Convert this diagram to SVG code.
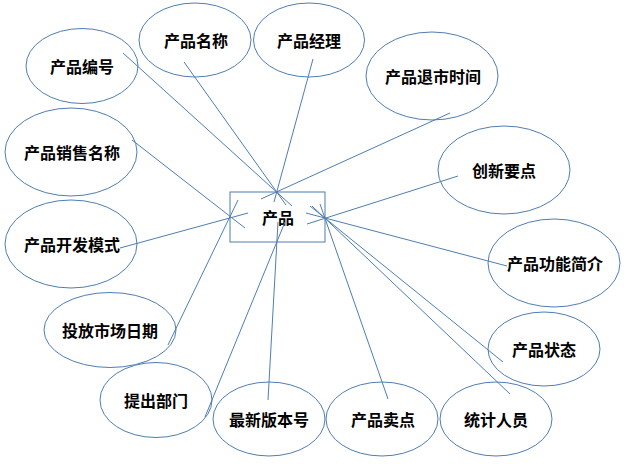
<svg xmlns="http://www.w3.org/2000/svg" width="627" height="464" viewBox="0 0 627 464">
<style>
.n ellipse,.n rect{fill:#fff;stroke:#4f7db3;stroke-width:1}
.c line{stroke:#4f7db3;stroke-width:1}
text{font-family:"Noto Sans CJK SC","Noto Sans CJK JP",sans-serif;font-weight:700;font-size:16px;text-anchor:middle;dominant-baseline:central;fill:#000}
</style>
<rect width="627" height="464" fill="#fff"/>
<g class="n">
<g id="n_bianhao"><ellipse cx="82" cy="66" rx="56" ry="37.5"/><text x="82" y="66">产品编号</text></g>
<g id="n_mingcheng"><ellipse cx="195" cy="40" rx="56" ry="37"/><text x="196" y="40">产品名称</text></g>
<g id="n_jingli"><ellipse cx="309" cy="40" rx="55.5" ry="37"/><text x="309" y="40">产品经理</text></g>
<g id="n_tuishi"><ellipse cx="432" cy="76" rx="66" ry="44"/><text x="433" y="76">产品退市时间</text></g>
<g id="n_chuangxin"><ellipse cx="504" cy="170" rx="66" ry="44"/><text x="504" y="170">创新要点</text></g>
<g id="n_xiaoshou"><ellipse cx="71" cy="152" rx="66" ry="44"/><text x="72" y="152">产品销售名称</text></g>
<g id="n_kaifa"><ellipse cx="71" cy="244" rx="66" ry="44"/><text x="72" y="244">产品开发模式</text></g>
<g id="n_toufang"><ellipse cx="110" cy="330" rx="66" ry="37.5"/><text x="110" y="330">投放市场日期</text></g>
<g id="n_tichu"><ellipse cx="156" cy="400" rx="56" ry="37.5"/><text x="156" y="400">提出部门</text></g>
<g id="n_banben"><ellipse cx="269" cy="419" rx="56" ry="37"/><text x="269" y="419">最新版本号</text></g>
<g id="n_maidian"><ellipse cx="382" cy="419" rx="56" ry="37"/><text x="383" y="419">产品卖点</text></g>
<g id="n_tongji"><ellipse cx="496" cy="419" rx="56" ry="37"/><text x="496" y="419">统计人员</text></g>
<g id="n_zhuangtai"><ellipse cx="544" cy="349" rx="56" ry="37"/><text x="544" y="349">产品状态</text></g>
<g id="n_gongneng"><ellipse cx="554" cy="263" rx="66" ry="44"/><text x="555" y="263">产品功能简介</text></g>
<g id="n_chanpin"><rect x="230" y="192" width="95" height="50"/><text x="278" y="217">产品</text></g>
</g>
<g class="c">
<line x1="123" y1="53" x2="292" y2="206"/>
<line x1="184" y1="62" x2="286" y2="205"/>
<line x1="313" y1="59" x2="274" y2="202"/>
<line x1="450" y1="113" x2="261" y2="199"/>
<line x1="132" y1="140" x2="245" y2="228"/>
<line x1="120" y1="248" x2="248" y2="213"/>
<line x1="168" y1="345" x2="238" y2="200"/>
<line x1="205" y1="417" x2="285" y2="222"/>
<line x1="268" y1="400" x2="278" y2="222"/>
<line x1="388" y1="399" x2="320" y2="204"/>
<line x1="510" y1="394" x2="312" y2="206"/>
<line x1="503" y1="362" x2="310" y2="206"/>
<line x1="507" y1="266" x2="306" y2="213"/>
<line x1="458" y1="176" x2="307" y2="224"/>
</g>
</svg>
